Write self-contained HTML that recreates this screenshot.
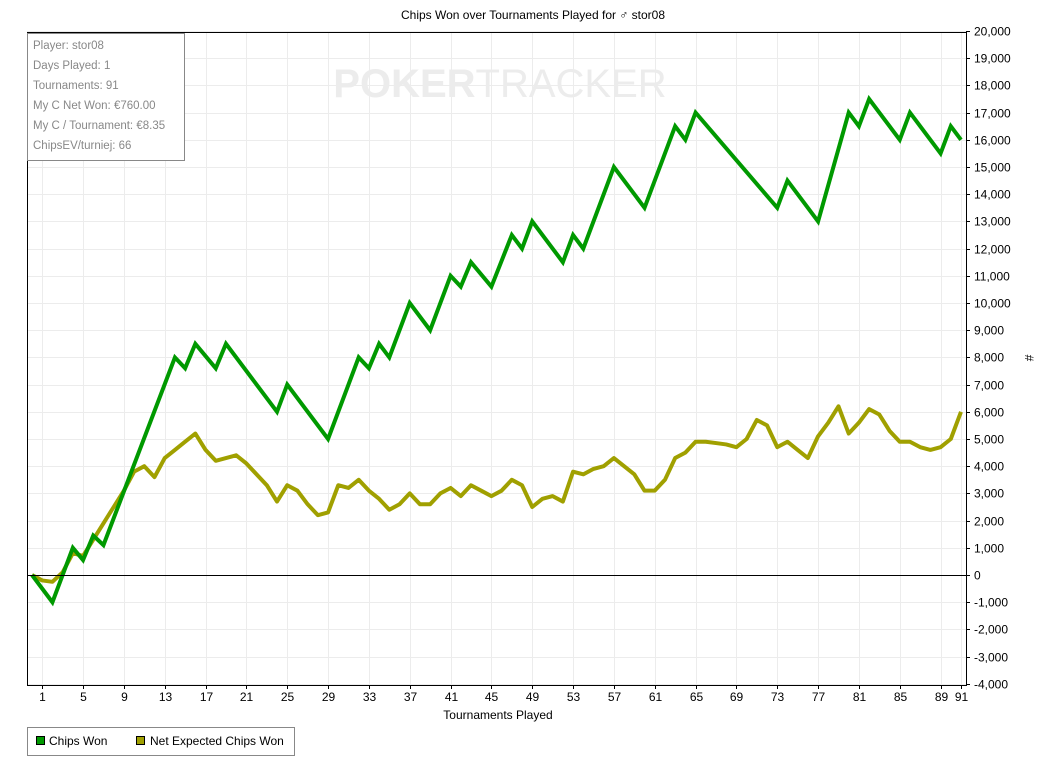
<!DOCTYPE html>
<html><head><meta charset="utf-8"><style>
body{margin:0;background:#fff;font-family:"Liberation Sans",sans-serif;}
svg text{font-family:"Liberation Sans",sans-serif;}
</style></head><body>
<svg id="c" width="1043" height="766" viewBox="0 0 1043 766" xmlns="http://www.w3.org/2000/svg">
<text x="533" y="19" font-size="12" text-anchor="middle" fill="#000">Chips Won over Tournaments Played for ♂ stor08</text>
<g id="grid"></g>
<text x="500" y="97" font-size="40" font-weight="bold" text-anchor="middle" fill="#ececec">POKER<tspan font-weight="normal">TRACKER</tspan></text>
<g id="series"></g>
<g id="axes"></g>
<g>
<rect x="27.5" y="33.5" width="157" height="127" fill="#fff" stroke="#888"/>
<g font-size="11.5" fill="#888">
<text x="33" y="49">Player: stor08</text>
<text x="33" y="69">Days Played: 1</text>
<text x="33" y="89">Tournaments: 91</text>
<text x="33" y="109">My C Net Won: €760.00</text>
<text x="33" y="129">My C / Tournament: €8.35</text>
<text x="33" y="149">ChipsEV/turniej: 66</text>
</g></g>
<text x="498" y="719" font-size="12" text-anchor="middle">Tournaments Played</text>
<text x="1025" y="358" font-size="12" text-anchor="middle" transform="rotate(90 1025 358)">#</text>
<g>
<rect x="27.5" y="727.5" width="267" height="28" fill="#fff" stroke="#888"/>
<rect x="36.5" y="736.5" width="8" height="8" fill="#009900" stroke="#000"/>
<text x="49" y="745" font-size="12">Chips Won</text>
<rect x="136.5" y="736.5" width="8" height="8" fill="#a0a000" stroke="#000"/>
<text x="150" y="745" font-size="12">Net Expected Chips Won</text>
</g>
</svg>
<script>
const chipsX=[0,2,4,5,6,7,14,15,16,18,19,24,25,29,32,33,34,35,37,39,41,42,43,45,47,48,49,52,53,54,57,60,63,64,65,73,74,77,80,81,82,85,86,89,90,91];
const chipsY=[0,-1000,1000,550,1450,1100,8000,7600,8500,7600,8500,6000,7000,5000,8000,7600,8500,8000,10000,9000,11000,10600,11500,10600,12500,12000,13000,11500,12500,12000,15000,13500,16500,16000,17000,13500,14500,13000,17000,16500,17500,16000,17000,15500,16500,16000];
const evY=[0,-200,-250,100,800,700,1300,1900,2500,3100,3800,4000,3600,4300,4600,4900,5200,4600,4200,4300,4400,4100,3700,3300,2700,3300,3100,2600,2200,2300,3300,3200,3500,3100,2800,2400,2600,3000,2600,2600,3000,3200,2900,3300,3100,2900,3100,3500,3300,2500,2800,2900,2700,3800,3700,3900,4000,4300,4000,3700,3100,3100,3500,4300,4500,4900,4900,4850,4800,4700,5000,5700,5500,4700,4900,4600,4300,5100,5600,6200,5200,5600,6100,5900,5300,4900,4900,4700,4600,4700,5000,6000];
const xTicks=[1,5,9,13,17,21,25,29,33,37,41,45,49,53,57,61,65,69,73,77,81,85,89,91];
const yTicks=[-4000,-3000,-2000,-1000,0,1000,2000,3000,4000,5000,6000,7000,8000,9000,10000,11000,12000,13000,14000,15000,16000,17000,18000,19000,20000];
const L=27,R=966,T=32,B=685;
const xs=t=>32+t*(961-32)/91;
const ys=v=>575-v*(575-31)/20000;
const NS="http://www.w3.org/2000/svg";
function mk(p,tag,a){const e=document.createElementNS(NS,tag);for(const k in a)e.setAttribute(k,a[k]);p.appendChild(e);return e;}
const grid=document.getElementById('grid'),axes=document.getElementById('axes'),ser=document.getElementById('series');
yTicks.forEach(v=>{const y=Math.round(ys(v))+.5;
 const g=mk(grid,'line',{x1:L,x2:R,y1:y,y2:y,stroke:'#ececec'});
 
 
 mk(axes,'line',{x1:R,x2:R+4,y1:y,y2:y,stroke:'#000'});
 const t=mk(axes,'text',{x:R+8,y:y+4,'font-size':12});t.textContent=v.toLocaleString('en-US');
 
 
});
xTicks.forEach(v=>{const x=Math.round(xs(v))+.5;
 const g=mk(grid,'line',{x1:x,x2:x,y1:T,y2:B,stroke:'#ececec'});
 
 
 mk(axes,'line',{x1:x,x2:x,y1:B,y2:B+4,stroke:'#000'});
 const t=mk(axes,'text',{x:x,y:B+16,'font-size':12,'text-anchor':'middle'});t.textContent=v;
 
 
});
mk(axes,'line',{x1:L,x2:R,y1:Math.round(ys(0))+.5,y2:Math.round(ys(0))+.5,stroke:'#000'});
mk(axes,'rect',{x:L+.5,y:T+.5,width:R-L,height:B-T,fill:'none',stroke:'#000'});
const ev=mk(ser,'polyline',{points:evY.map((v,i)=>xs(i)+','+ys(v)).join(' '),fill:'none',stroke:'#a0a000','stroke-width':4,'stroke-linejoin':'round'});


const cw=mk(ser,'polyline',{points:chipsX.map((t,i)=>xs(t)+','+ys(chipsY[i])).join(' '),fill:'none',stroke:'#009900','stroke-width':4,'stroke-linejoin':'miter'});


</script>
</body></html>
